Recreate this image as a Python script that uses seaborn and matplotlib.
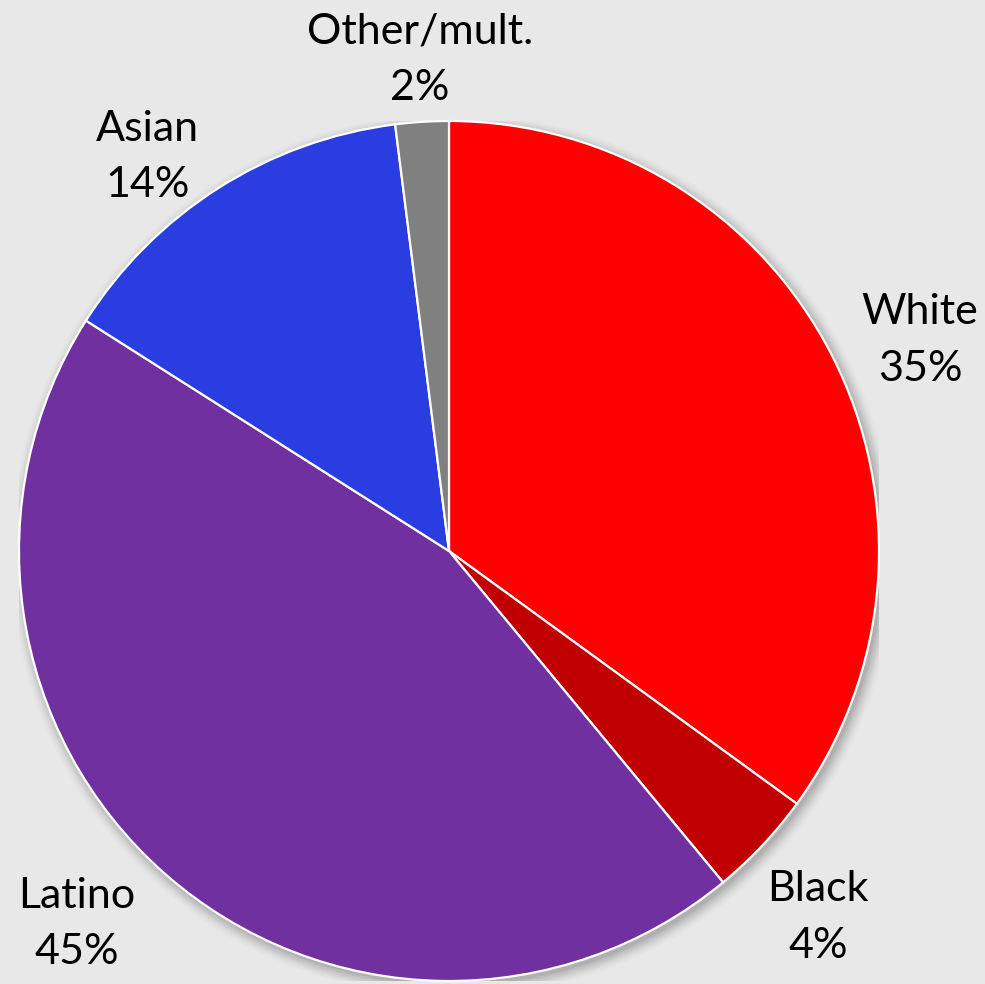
import matplotlib
matplotlib.use("Agg")
import matplotlib.pyplot as plt
import matplotlib.patches as mpatches
import numpy as np
import seaborn as sns

# Share of population by race/ethnicity
categories = ["White", "Black", "Latino", "Asian", "Other/mult."]
shares = [35, 4, 45, 14, 2]
colors = ["#ff0000", "#c00000", "#7030a0", "#2a3de0", "#808080"]
# label placement: radial distance (in pie radii) and angular nudge (degrees)
label_dist = [1.200, 1.210, 1.225, 1.153, 1.144]
label_nudge = [-2.9, -1.6, -3.5, 5.0, -0.2]

BG = "#e8e8e8"
sns.set_theme(style="white", rc={"figure.facecolor": BG, "axes.facecolor": BG})
plt.rcParams["font.family"] = ["Lato", "DejaVu Sans"]

fig = plt.figure(figsize=(9.85, 9.84), dpi=100)
W, H = 985, 984
cx, cy, R = 449, 551, 430
ax = fig.add_axes([(cx - R) / W, (H - cy - R) / H, 2 * R / W, 2 * R / H])

# soft drop shadow under the pie
for i, a in enumerate(np.linspace(0.05, 0.012, 8)):
    ax.add_patch(mpatches.Circle((0.008, -0.010), 1.0 + 0.004 * i,
                                 color="black", alpha=a, lw=0, zorder=0))

wedges, _ = ax.pie(
    shares,
    colors=colors,
    startangle=90,
    counterclock=False,
    radius=1.0,
    wedgeprops=dict(edgecolor="white", linewidth=1.6),
)
for w in wedges:
    w.set_zorder(2)

ax.set_xlim(-1, 1)
ax.set_ylim(-1, 1)
ax.set_aspect("equal")
ax.axis("off")

total = sum(shares)
start = 90.0
for name, val, d, nudge in zip(categories, shares, label_dist, label_nudge):
    sweep = 360.0 * val / total
    mid = np.deg2rad(start - sweep / 2 + nudge)
    start -= sweep
    ax.text(d * np.cos(mid), d * np.sin(mid), f"{name}\n{val}%",
            ha="center", va="center", fontsize=31, color="black",
            linespacing=1.6, clip_on=False, zorder=3)

fig.savefig("out.png", dpi=100, facecolor=BG)
